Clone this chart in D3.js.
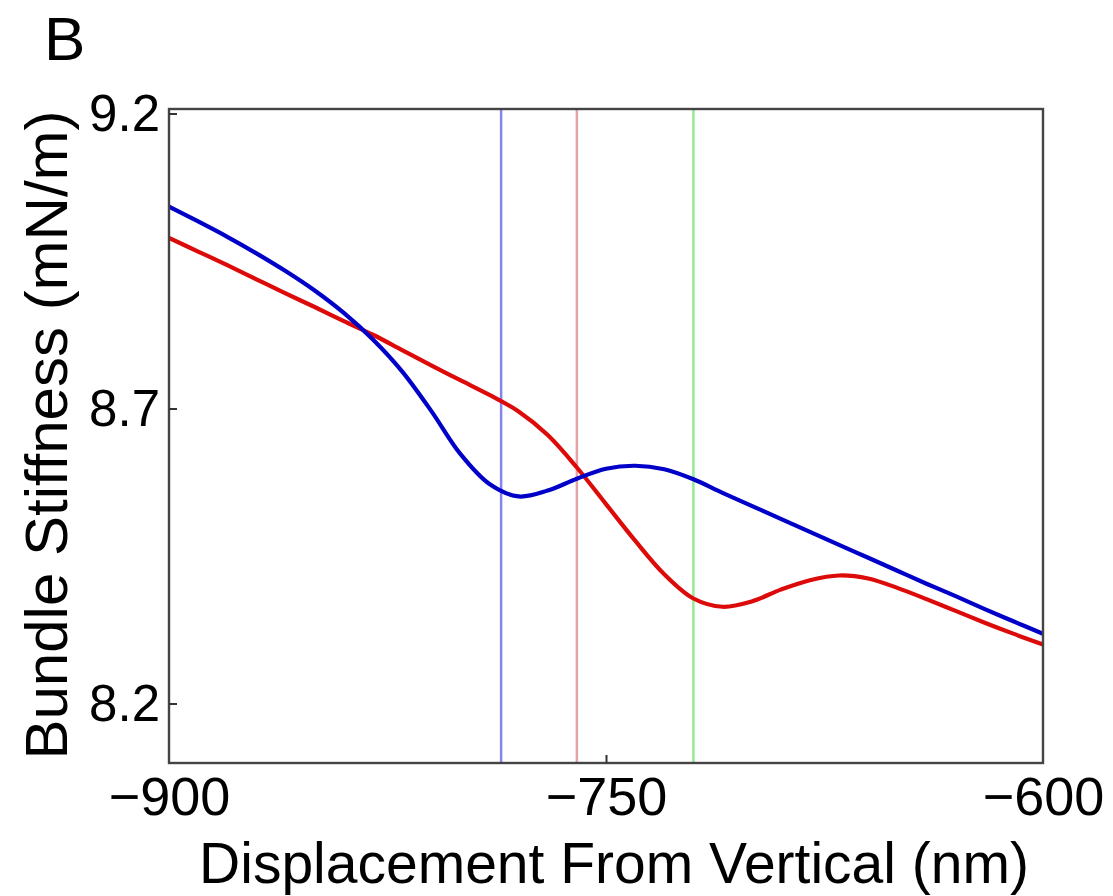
<!DOCTYPE html>
<html>
<head>
<meta charset="utf-8">
<script src="https://cdn.jsdelivr.net/npm/d3@7"></script>
<style>
  html, body { margin: 0; padding: 0; background: #fff; }
  svg { display: block; }
  text { font-family: "Liberation Sans", Arial, Helvetica, sans-serif; fill: #000; }
</style>
</head>
<body>
<svg id="chart" width="1113" height="896"></svg>
<script>
// ---- data ----
const displacement = [-900,-890,-880,-870,-860,-850,-840,-830,-820,-810,-800,-790,-780,-770,-760,-750,-740,-730,-720,-710,-700,-690,-680,-670,-660,-650,-640,-630,-620,-610,-600];
const blueStiffness = [9.042,9.017,8.991,8.963,8.933,8.900,8.862,8.817,8.763,8.696,8.623,8.572,8.551,8.561,8.581,8.598,8.603,8.597,8.580,8.557,8.535,8.513,8.491,8.469,8.447,8.425,8.403,8.382,8.360,8.339,8.318];
const redStiffness  = [8.989,8.966,8.943,8.919,8.895,8.872,8.848,8.825,8.799,8.773,8.748,8.723,8.695,8.655,8.600,8.538,8.476,8.419,8.378,8.364,8.373,8.393,8.409,8.417,8.412,8.396,8.377,8.357,8.337,8.318,8.300];
const markerLines = [
  { x: -786, color: "#8585f0" },
  { x: -760, color: "#e6a3a3" },
  { x: -720, color: "#93ec93" }
];
const xTicks = [-900, -750, -600];
const yTicks = [8.2, 8.7, 9.2];
const xLabel = "Displacement From Vertical (nm)";
const yLabel = "Bundle Stiffness (mN/m)";
const panelLabel = "B";

// ---- layout ----
const pLeft = 169, pRight = 1043, pTop = 109, pBottom = 763;
const svg = d3.select("#chart");

const x = d3.scaleLinear().domain([-900, -600]).range([pLeft, pRight]);
const y = d3.scaleLinear().domain([8.0992, 9.2076]).range([pBottom, pTop]);

svg.append("defs").append("clipPath").attr("id", "clip")
  .append("rect").attr("x", pLeft).attr("y", pTop).attr("width", pRight - pLeft).attr("height", pBottom - pTop);

const plot = svg.append("g").attr("clip-path", "url(#clip)");

// vertical marker lines
plot.selectAll("line.marker").data(markerLines).enter().append("line")
  .attr("class", "marker")
  .attr("x1", d => x(d.x)).attr("x2", d => x(d.x))
  .attr("y1", pTop).attr("y2", pBottom)
  .attr("stroke", d => d.color).attr("stroke-width", 2.5);

const line = d3.line().curve(d3.curveCatmullRom.alpha(0.5))
  .x(d => x(d[0])).y(d => y(d[1]));

plot.append("path").datum(displacement.map((d, i) => [d, redStiffness[i]]))
  .attr("d", line).attr("fill", "none").attr("stroke", "#dd0a0a").attr("stroke-width", 4.2);
plot.append("path").datum(displacement.map((d, i) => [d, blueStiffness[i]]))
  .attr("d", line).attr("fill", "none").attr("stroke", "#0000c8").attr("stroke-width", 4.2);

// frame
svg.append("rect").attr("x", pLeft).attr("y", pTop).attr("width", pRight - pLeft).attr("height", pBottom - pTop)
  .attr("fill", "none").attr("stroke", "#444").attr("stroke-width", 2.4);

// axes (ticks inward)
const yAxis = d3.axisLeft(y).tickValues(yTicks).tickSize(-8).tickPadding(10).tickFormat(d3.format(".1f"));
const gy = svg.append("g").attr("transform", `translate(${pLeft},0)`).call(yAxis);
gy.select(".domain").remove();
gy.selectAll(".tick line").attr("stroke", "#333").attr("stroke-width", 2);
gy.selectAll(".tick text").attr("font-size", 51).attr("dy", "0.34em").attr("x", -9)
  .style("font-family", "'Liberation Sans', Arial, sans-serif").attr("fill", "#000");

const xAxis = d3.axisBottom(x).tickValues(xTicks).tickSize(-8).tickPadding(14)
  .tickFormat(d => d < 0 ? "\u2212" + Math.abs(d) : String(d));
const gx = svg.append("g").attr("transform", `translate(0,${pBottom})`).call(xAxis);
gx.select(".domain").remove();
gx.selectAll(".tick line").attr("stroke", "#333").attr("stroke-width", 2)
  .attr("display", d => (d === -900 || d === -600) ? "none" : null);
gx.selectAll(".tick text").attr("font-size", 54).attr("dy", null).attr("y", 52)
  .style("font-family", "'Liberation Sans', Arial, sans-serif").attr("fill", "#000");

// axis titles
svg.append("text").attr("x", (pLeft + pRight) / 2 + 8).attr("y", 883).attr("text-anchor", "middle")
  .attr("font-size", 57).text(xLabel);
svg.append("text").attr("transform", "translate(67,435) rotate(-90)").attr("text-anchor", "middle")
  .attr("font-size", 60).text(yLabel);

// panel label
svg.append("text").attr("x", 44).attr("y", 60).attr("font-size", 62).text(panelLabel);
</script>
</body>
</html>
